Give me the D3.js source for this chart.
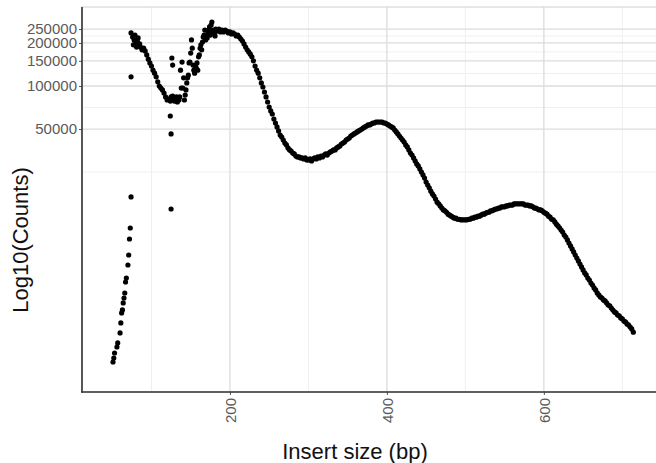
<script src="https://d3js.org/d3.v7.min.js"></script>
<style>
body {margin: 0; background: #fff;}
* {font-family: "Liberation Sans", Arial, sans-serif;}
</style>
<div id="chart"></div>
<script type="text/javascript">
// main fragment-size curve, one value every 2 bp from 74 to 714
var mainSizes = d3.range(74, 715, 2);
var mainCounts = [
	235000,220000,210000,197000,206000,190000,187000,179000,184000,176000,
	165000,154000,145000,138000,129000,123000,116000,107000,100000,96800,
	93800,89300,83800,79800,81100,78500,79800,82400,79800,83800,
	82400,83800,96800,96800,79800,93800,114000,145000,170000,184000,
	129000,138000,145000,160000,184000,179000,220000,246000,224000,235000,
	259000,267000,239000,235000,250000,242000,250000,239000,246000,239000,
	246000,242000,235000,239000,231000,235000,231000,224000,227000,220000,
	213000,206000,197000,187000,179000,173000,167000,160000,150000,138000,
	129000,123000,114000,105000,98400,90800,83800,77300,71300,66900,
	63700,58800,55100,51700,48500,45400,44000,41900,39900,38700,
	36900,35700,35100,34000,33500,32400,31900,31900,31400,31400,
	30900,31400,30400,30400,30900,29900,30900,31400,30900,31900,
	31400,32400,31900,32900,33500,32900,34000,34600,35100,35700,
	35700,36900,37500,38100,39300,39900,40600,41900,42600,43300,
	44700,45400,46200,46900,47700,48500,49200,50000,50900,51700,
	52500,53400,53400,54200,55100,55100,56000,56000,56000,56000,
	56000,55100,55100,54200,53400,52500,51700,50900,49200,47700,
	46200,44700,43300,41900,40600,38700,37500,35700,34000,32900,
	31400,29900,28500,27600,26300,25000,23900,22700,21300,20300,
	19400,18400,17600,17000,16200,15400,15000,14500,14000,13600,
	13400,13100,12700,12500,12300,12100,11900,11900,11700,11700,
	11600,11600,11600,11600,11600,11700,11700,11900,11900,12100,
	12100,12300,12300,12500,12700,12700,12900,13100,13100,13400,
	13400,13600,13800,13800,14000,14000,14300,14300,14300,14500,
	14500,14700,14700,14700,15000,15000,15000,15000,15000,15000,
	15000,14700,14700,14700,14500,14500,14300,14000,14000,13800,
	13600,13600,13400,13100,12900,12700,12300,12100,11700,11600,
	11200,10800,10500,10200,9840,9530,9080,8790,8380,7980,
	7610,7250,6910,6580,6270,5980,5690,5430,5170,4930,
	4770,4540,4400,4190,4060,3870,3750,3570,3460,3350,
	3290,3190,3140,3040,2940,2900,2800,2710,2630,2590,
	2500,2470,2390,2350,2270,2240,2170,2130,2060,2000,
	1900
];

// short fragments rising on the left
var riseSizes = [51,52,53,56,57,60,61,62,63,64,65,66,67,68,70,71,72,73,74];
var riseCounts = [1175,1253,1358,1496,1596,1875,2202,2587,2715,3039,3292,3568,4259,4543,5601,6580,8513,10160,16750];

// odd-bp points of the noisy part and the stray ones
var extraSizes = [77,79,81,83,85,125,127,129,131,133,135,137,139,141,143,145,147,149,151,153,155,157,159,161,163,165,167,169,171,173,175,177,179,181,
	74,124,125,125,126,127];
var extraCounts = [194000,227000,187000,217000,197000,83800,85100,78500,81100,77300,79800,129000,147000,114000,86500,105000,119000,147000,210000,140000,
	123000,134000,129000,165000,194000,203000,227000,210000,217000,246000,227000,280000,246000,224000,
	116000,61700,46200,13800,157000,140000];

var xTicks = [200, 400, 600];
var xMinor = [100, 300, 500, 700];
var yTicks = [50000, 100000, 150000, 200000, 250000];
var yMinor = [25000, 70711, 122474, 173205, 223607];

var width = 656;
var height = 463;
var pLeft = 82, pRight = 660, pTop = 7, pBottom = 392;

var points = [];
mainSizes.forEach(function(s, i) { points.push([s, mainCounts[i]]); });
riseSizes.forEach(function(s, i) { points.push([s, riseCounts[i]]); });
extraSizes.forEach(function(s, i) { points.push([s, extraCounts[i]]); });

var x = d3.scaleLinear().domain([11.5, 748]).range([pLeft, pRight]);
var y = d3.scaleLog().domain([724.6, 356800]).range([pBottom, pTop]);

var svg = d3.select("#chart").append("svg")
	.attr("width", width)
	.attr("height", height);

svg.append("rect")
	.attr("width", width)
	.attr("height", height)
	.attr("fill", "#fff");

// grid
svg.selectAll(".xminor").data(xMinor).enter().append("line")
	.attr("x1", function(d) { return x(d); })
	.attr("x2", function(d) { return x(d); })
	.attr("y1", pTop).attr("y2", pBottom)
	.attr("stroke", "#efefef").attr("stroke-width", 1);
svg.selectAll(".yminor").data(yMinor).enter().append("line")
	.attr("x1", pLeft).attr("x2", pRight)
	.attr("y1", function(d) { return y(d); })
	.attr("y2", function(d) { return y(d); })
	.attr("stroke", "#efefef").attr("stroke-width", 1);
svg.selectAll(".xmajor").data(xTicks).enter().append("line")
	.attr("x1", function(d) { return x(d); })
	.attr("x2", function(d) { return x(d); })
	.attr("y1", pTop).attr("y2", pBottom)
	.attr("stroke", "#dcdcdc").attr("stroke-width", 1.3);
svg.selectAll(".ymajor").data(yTicks).enter().append("line")
	.attr("x1", pLeft).attr("x2", pRight)
	.attr("y1", function(d) { return y(d); })
	.attr("y2", function(d) { return y(d); })
	.attr("stroke", "#dcdcdc").attr("stroke-width", 1.3);

// panel border
svg.append("rect")
	.attr("x", pLeft).attr("y", pTop)
	.attr("width", pRight - pLeft).attr("height", pBottom - pTop)
	.attr("fill", "none")
	.attr("stroke", "#cfcfcf");

// points
svg.selectAll(".pt").data(points).enter().append("circle")
	.attr("cx", function(d) { return x(d[0]); })
	.attr("cy", function(d) { return y(d[1]); })
	.attr("r", 2.6)
	.attr("fill", "#000");

// axes
var xAxis = svg.append("g")
	.attr("transform", "translate(0," + pBottom + ")")
	.call(d3.axisBottom(x).tickValues(xTicks).tickSize(3).tickFormat(d3.format("d")));
xAxis.select(".domain").remove();
xAxis.selectAll("line").attr("stroke", "#555");
xAxis.selectAll("text")
	.attr("transform", "rotate(-90)")
	.attr("x", -6).attr("y", 0).attr("dy", "0.35em")
	.attr("text-anchor", "end")
	.attr("fill", "#5a5a5a")
	.style("font-size", "15px");

var yAxis = svg.append("g")
	.attr("transform", "translate(" + pLeft + ",0)")
	.call(d3.axisLeft(y).tickValues(yTicks).tickSize(3).tickFormat(d3.format("d")));
yAxis.select(".domain").remove();
yAxis.selectAll("line").attr("stroke", "#555");
yAxis.selectAll("text")
	.attr("x", -5)
	.attr("fill", "#5a5a5a")
	.style("font-size", "15px");

svg.append("line")
	.attr("x1", pLeft).attr("x2", pLeft)
	.attr("y1", pTop).attr("y2", pBottom + 0.8)
	.attr("stroke", "#333").attr("stroke-width", 1.6);
svg.append("line")
	.attr("x1", pLeft - 0.8).attr("x2", pRight)
	.attr("y1", pBottom).attr("y2", pBottom)
	.attr("stroke", "#333").attr("stroke-width", 1.6);

// titles
svg.append("text")
	.attr("x", 355).attr("y", 459)
	.attr("text-anchor", "middle")
	.style("font-size", "22px")
	.attr("fill", "#111")
	.text("Insert size (bp)");
svg.append("text")
	.attr("transform", "translate(28,240) rotate(-90)")
	.attr("text-anchor", "middle")
	.style("font-size", "22px")
	.attr("fill", "#111")
	.text("Log10(Counts)");
</script>
